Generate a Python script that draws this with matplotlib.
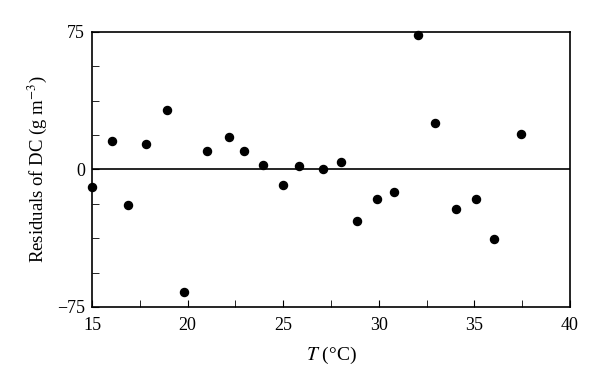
import matplotlib
matplotlib.use("Agg")
from matplotlib import pyplot as plt
from matplotlib.ticker import MultipleLocator, AutoMinorLocator

# datos
temperatura = [15.0, 16.05, 16.87, 17.82, 18.92, 19.83, 21.03, 22.14, 22.93, 23.92,
               24.98, 25.82, 27.09, 28.0, 28.87, 29.93, 30.80, 32.07, 32.95, 34.03,
               35.06, 36.0, 37.43]
residuos = [-9.4, 15.5, -19.3, 13.9, 32.3, -66.8, 10.1, 17.7, 10.1, 2.5,
            -8.8, 1.9, 0.3, 4.1, -28.2, -16.4, -12.1, 73.3, 25.2, -21.4,
            -16.4, -37.7, 19.3]
y_ticks = [-75, 0, 75]
y_labels = ["\u221275", "0", "75"]

plt.rcParams["font.family"] = ["Liberation Serif", "DejaVu Serif"]
plt.rcParams["mathtext.fontset"] = "stix"

fig = plt.figure(figsize=(6, 3.86), dpi=100)
ax = fig.add_axes([0.1533, 0.2047, 0.7967, 0.7132])

ax.plot(temperatura, residuos, "o", color="black", markersize=5.8, clip_on=False, zorder=3)
ax.axhline(0, color="black", linewidth=1.2)

ax.set_xlim(15, 40)
ax.set_ylim(-75, 75)
ax.xaxis.set_major_locator(MultipleLocator(5))
ax.xaxis.set_minor_locator(AutoMinorLocator(2))
ax.set_yticks(y_ticks, y_labels)
ax.yaxis.set_minor_locator(AutoMinorLocator(4))
ax.tick_params(which="both", direction="in", labelsize=13, length=5,
               top=False, right=False)
ax.tick_params(axis="x", pad=7)
ax.tick_params(axis="y", pad=5)

for s in ax.spines.values():
    s.set_linewidth(1.2)

ax.set_xlabel("$T$ (\u00b0C)", fontsize=14, labelpad=8)
ax.set_ylabel("Residuals of DC (g m$^{-3}$)", fontsize=13.5, labelpad=6)

fig.savefig("out.png")
plt.close(fig)
